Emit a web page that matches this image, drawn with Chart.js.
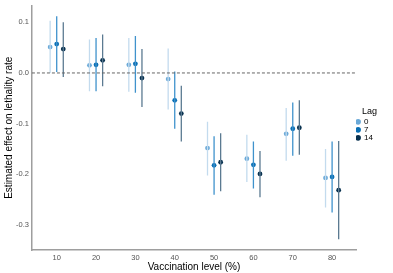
<!DOCTYPE html>
<html>
<head>
<meta charset="utf-8">
<script src="https://cdn.jsdelivr.net/npm/chart.js@4.4.1/dist/chart.umd.min.js"></script>
<style>
  html, body { margin: 0; padding: 0; background: #fff; }
  #wrap { width: 393px; height: 273px; }
</style>
</head>
<body>
<div id="wrap"><canvas id="chart"></canvas></div>
<script>
// vaccination levels and lags
const levels = [10, 20, 30, 40, 50, 60, 70, 80];
const lags = ["0", "7", "14"];
const dodge = [-1.67, 0, 1.67];

// estimates and confidence bounds per lag
const est0 = [0.051, 0.015, 0.016, -0.012, -0.148, -0.169, -0.120, -0.207];
const low0 = [0.000, -0.036, -0.037, -0.072, -0.202, -0.215, -0.173, -0.265];
const high0 = [0.103, 0.066, 0.069, 0.048, -0.096, -0.122, -0.069, -0.150];

const est7 = [0.057, 0.016, 0.018, -0.054, -0.182, -0.181, -0.110, -0.205];
const low7 = [0.002, -0.036, -0.039, -0.110, -0.240, -0.228, -0.163, -0.275];
const high7 = [0.112, 0.069, 0.073, 0.003, -0.125, -0.135, -0.058, -0.135];

const est14 = [0.047, 0.025, -0.010, -0.080, -0.176, -0.199, -0.108, -0.231];
const low14 = [-0.008, -0.026, -0.067, -0.135, -0.233, -0.245, -0.161, -0.328];
const high14 = [0.100, 0.076, 0.047, -0.025, -0.119, -0.154, -0.054, -0.134];

const xTicks = [10, 20, 30, 40, 50, 60, 70, 80];
const yTicks = [-0.3, -0.2, -0.1, 0.0, 0.1];

const pointColors = ["#6aa9d8", "#0a6fb4", "#07304e"];
const lineColors = ["#c3dbee", "#3f92cc", "#5b7a91"];

const series = [
  { est: est0, low: low0, high: high0 },
  { est: est7, low: low7, high: high7 },
  { est: est14, low: low14, high: high14 },
];

let datasets = [];

// zero reference line
datasets.push({
  type: "line",
  label: "zero",
  data: [{ x: 3.7, y: 0 }, { x: 86.1, y: 0 }],
  borderColor: "#666",
  borderWidth: 1,
  borderDash: [3, 2],
  pointRadius: 0,
});

// error bars as broken line segments
series.forEach((s, i) => {
  let segs = [];
  levels.forEach((lv, j) => {
    let x = lv + dodge[i];
    segs.push({ x: x, y: s.low[j] });
    segs.push({ x: x, y: s.high[j] });
    segs.push({ x: x, y: null });
  });
  datasets.push({
    type: "line",
    label: "ci" + lags[i],
    data: segs,
    borderColor: lineColors[i],
    borderWidth: 1.3,
    pointRadius: 0,
    spanGaps: false,
  });
});

// point estimates
series.forEach((s, i) => {
  datasets.push({
    type: "scatter",
    label: lags[i],
    data: levels.map((lv, j) => ({ x: lv + dodge[i], y: s.est[j] })),
    backgroundColor: pointColors[i],
    borderColor: pointColors[i],
    borderWidth: 0,
    pointRadius: 2.4,
    pointStyle: "circle",
  });
});

const ctx = document.getElementById("chart").getContext("2d");
const chart = new Chart(ctx, {
  type: "scatter",
  data: { datasets: datasets },
  options: {
    responsive: true,
    maintainAspectRatio: false,
    animation: false,
    layout: { padding: { top: 2, right: 10, bottom: 0, left: 3 } },
    plugins: {
      tooltip: { enabled: false },
      legend: {
        position: "right",
        align: "start",
        title: {
          display: true,
          text: "Lag",
          color: "#000",
          font: { family: "Liberation Sans", size: 9 },
          padding: { top: 105, bottom: 0 },
        },
        labels: {
          filter: (item) => lags.includes(item.text),
          usePointStyle: true,
          boxWidth: 4,
          boxHeight: 4,
          padding: 0,
          color: "#000",
          font: { family: "Liberation Sans", size: 8 },
        },
      },
    },
    scales: {
      x: {
        type: "linear",
        min: 3.7,
        max: 86.1,
        afterBuildTicks: (axis) => {
          axis.ticks = xTicks.map((v) => ({ value: v }));
        },
        grid: {
          display: false,
          drawTicks: true,
          tickLength: 2,
          tickColor: "#999",
        },
        border: { display: true, color: "#9e9e9e", width: 1.5 },
        ticks: {
          color: "#555",
          padding: 1,
          font: { family: "Liberation Sans", size: 7.5 },
        },
        title: {
          display: true,
          text: "Vaccination level (%)",
          color: "#000",
          padding: { top: -2, bottom: 0 },
          font: { family: "Liberation Sans", size: 10 },
        },
      },
      y: {
        type: "linear",
        min: -0.349,
        max: 0.133,
        afterBuildTicks: (axis) => {
          axis.ticks = yTicks.map((v) => ({ value: v }));
        },
        grid: {
          display: false,
          drawTicks: true,
          tickLength: 2,
          tickColor: "#999",
        },
        border: { display: true, color: "#9e9e9e", width: 1.5 },
        ticks: {
          color: "#555",
          padding: 1,
          font: { family: "Liberation Sans", size: 7.5 },
          callback: (v) => v.toFixed(1),
        },
        title: {
          display: true,
          text: "Estimated effect on lethality rate",
          color: "#000",
          padding: { top: 0, bottom: 0 },
          font: { family: "Liberation Sans", size: 10 },
        },
      },
    },
  },
});
</script>
</body>
</html>
